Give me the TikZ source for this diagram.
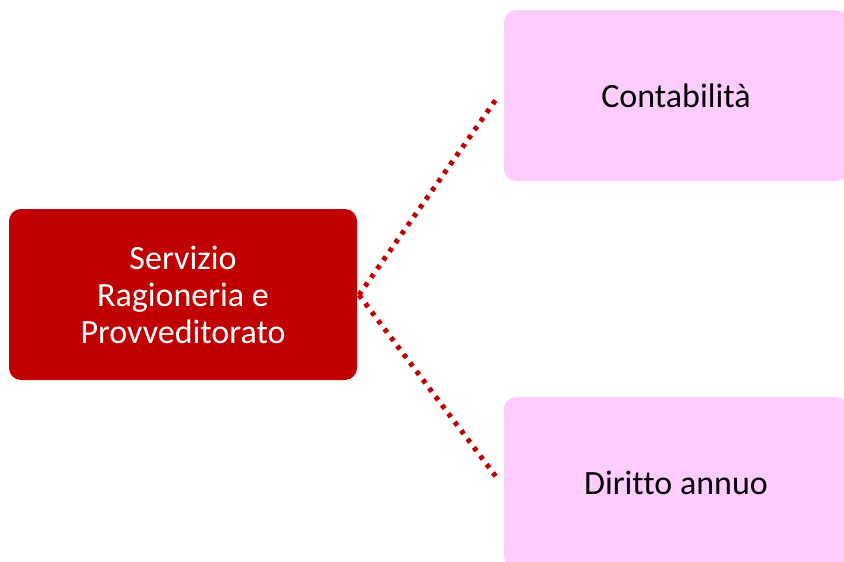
\documentclass[tikz,border=0pt]{standalone}
\usepackage{fontspec}
\setmainfont[Ligatures={NoCommon}]{Carlito}
\usepackage{tikz}
\usetikzlibrary{calc}

\definecolor{darkred}{HTML}{C00000}
\definecolor{pinkbox}{HTML}{FFCCFF}

\begin{document}
\begin{tikzpicture}[x=1pt, y=-1pt,
	            every node/.style={
	            rounded corners=12pt,
	            align = center,
	            inner sep=0pt,
	            font=\fontsize{34}{37}\selectfont,
	            },
	            main/.style={fill=darkred, text=white,
	                minimum width=348pt, minimum height=171pt},
	            unit/.style={fill=pinkbox, text=black,
	                minimum width=344pt, minimum height=171pt},
	            link/.style={
                    draw=darkred,
                    line width=5pt,
                    dash pattern=on 4.4pt off 6.2pt
                }]
	        \useasboundingbox (0,0) rectangle (844,562);
	        \clip (0,0) rectangle (844,562);

	        \node[main] (srv) at (183,294.5) {Servizio\\Ragioneria e\\Provveditorato};
	        \node[unit] (cont) at (676,95.5) {Contabilità};
	        \node[unit] (dir) at (676,482.5) {Diritto annuo};

	        \coordinate (fork) at (359,295);
	        \coordinate (c1) at (497,98);
	        \coordinate (c2) at (497,478);

	        \draw[link] (fork) -- (c1);
	        \draw[link] (fork) -- (c2);

	    \end{tikzpicture}
\end{document}
